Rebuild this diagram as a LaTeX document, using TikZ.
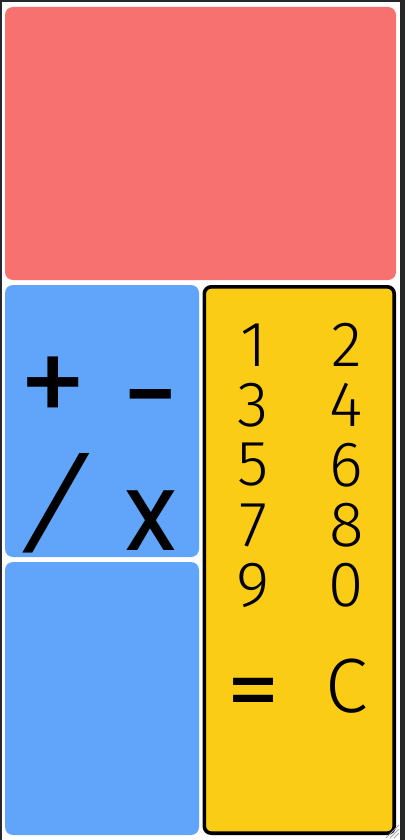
\documentclass[tikz,border=0pt]{standalone}
\usepackage{fontspec}
\setmainfont{Fira Sans}
\newfontfamily\thinfont{Fira Sans Light}
\newfontfamily\opfont{Poppins Medium}
\usetikzlibrary{positioning}

\definecolor{framegray}{HTML}{26272B}
\definecolor{displayred}{HTML}{F87171}
\definecolor{padblue}{HTML}{60A5FA}
\definecolor{padyellow}{HTML}{FACC15}

\tikzset{
  pad/.style={rounded corners=8pt},
  opkey/.style={inner sep=0pt, font=\opfont\fontsize{89}{89}\selectfont},
  bigop/.style={inner sep=0pt, font=\opfont\fontsize{100}{100}\selectfont},
  numkey/.style={inner sep=0pt, font=\thinfont\fontsize{64}{64}\selectfont}
}

\begin{document}
\begin{tikzpicture}[x=1pt,y=-1pt]
			% Window frame
			\useasboundingbox (0,0) rectangle (405,840);
			\fill[framegray] (0,0) rectangle (405,840);
			\fill[white] (1.7,2) rectangle (400,840);
			
			% Display
			\fill[displayred, pad] (5,7) rectangle (396,280);
			
			% Operator pads
			\fill[padblue, pad] (5,285) rectangle (199,557);
			\fill[padblue, pad] (5,562) rectangle (199,835);
			\node[bigop] (plus) at (53.5,388) {+};
			\node[bigop] (minus) at (150.7,410) {-};
			\node[opkey, xslant=0.33] (divide) at (57,503) {/};
			\node[opkey, font=\opfont\fontsize{86}{86}\selectfont] (times) at (150.5,521) {X};
			
			% Number pad
			\draw[line width=3.6pt, fill=padyellow, rounded corners=7pt] (204.3,286.8) rectangle (394.2,833.2);
			\node[numkey] (one) at (253.5,345) {1};
			\node[numkey] (two) at (346.5,345) {2};
			\node[numkey] (three) at (253.5,405) {3};
			\node[numkey] (four) at (346.5,405) {4};
			\node[numkey] (five) at (253.5,465) {5};
			\node[numkey] (six) at (346.5,465) {6};
			\node[numkey] (seven) at (253.5,525) {7};
			\node[numkey] (eight) at (346.5,525) {8};
			\node[numkey] (nine) at (253.5,585) {9};
			\node[numkey] (zero) at (346.5,585) {0};
			\node[opkey, font=\opfont\fontsize{75}{75}\selectfont] (equals) at (254,698) {=};
			\node[numkey, font=\thinfont\fontsize{77}{77}\selectfont] (clear) at (347,686.5) {C};
			
			% Resize grip
			\draw[gray!70, line width=0.8pt] (390,838) -- (399,829) (394,838) -- (399,833) (386,838) -- (399,825);
		\end{tikzpicture}
\end{document}
